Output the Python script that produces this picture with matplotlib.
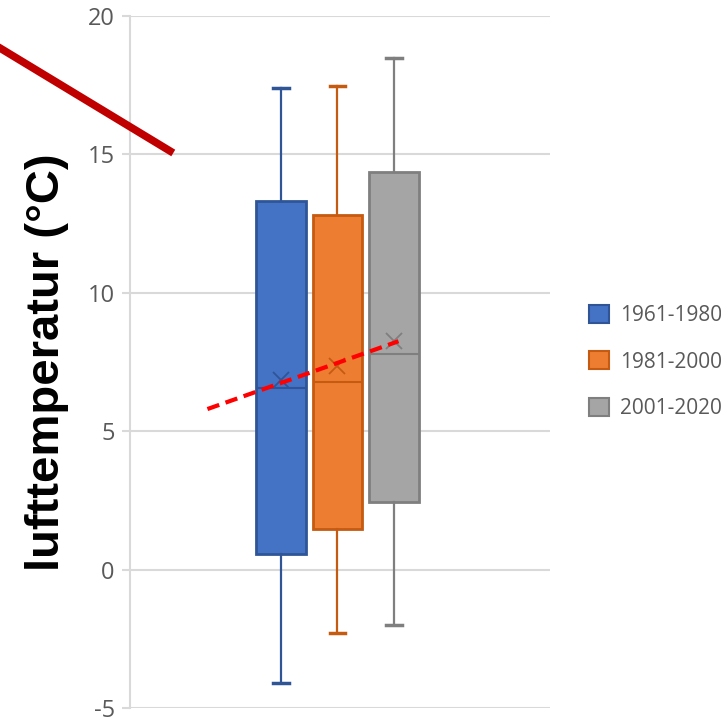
import matplotlib
matplotlib.use("Agg")
import matplotlib.pyplot as plt
from matplotlib.lines import Line2D
from matplotlib.patches import Patch

plt.rcParams["axes.unicode_minus"] = False

# Statistiques des boites
periodes = ["1961-1980", "1981-2000", "2001-2020"]
w_bas = [-4.1, -2.3, -2.0]
q1 = [0.55, 1.48, 2.46]
mediane = [6.55, 6.77, 7.78]
q3 = [13.3, 12.8, 14.36]
w_haut = [17.4, 17.47, 18.5]
moyenne = [6.85, 7.34, 8.25]

# tendance (pointillés rouges)
tend_x = [-0.3, 3.08]
tend_y = [5.8, 8.25]

remplissage = ["#4472C4", "#ED7D31", "#A5A5A5"]
bords = ["#2F5597", "#C55A11", "#7F7F7F"]

fig = plt.figure(figsize=(7.21, 7.19), dpi=100)
ax = fig.add_axes([130/721, 11/719, 420/721, 692/719])

stats = []
for i in range(3):
    stats.append(dict(whislo=w_bas[i], q1=q1[i], med=mediane[i], q3=q3[i],
                      whishi=w_haut[i], mean=moyenne[i], label=periodes[i]))

for i in range(3):
    ax.bxp([stats[i]], positions=[i + 1], widths=0.88, patch_artist=True,
           showmeans=True, showfliers=False,
           boxprops=dict(facecolor=remplissage[i], edgecolor=bords[i], linewidth=2),
           whiskerprops=dict(color=bords[i], linewidth=1.6),
           capprops=dict(color=bords[i], linewidth=2.5),
           medianprops=dict(color=bords[i], linewidth=1.5),
           meanprops=dict(marker="x", markeredgecolor=bords[i], markersize=12,
                          markeredgewidth=1.3),
           capwidths=0.27, zorder=3)

ax.plot(tend_x, tend_y, color="#FF0000", linestyle=(0, (3, 1.6)), linewidth=3, zorder=5)

ax.set_xlim(-1.67, 5.76)
ax.set_ylim(-5, 20)
ax.set_yticks([-5, 0, 5, 10, 15, 20])
ax.set_xticks([])
ax.grid(axis="y", color="#D9D9D9", linewidth=1.5, zorder=0)
ax.set_axisbelow(True)
for s in ["top", "right", "bottom"]:
    ax.spines[s].set_visible(False)
ax.spines["left"].set_color("#D9D9D9")
ax.spines["left"].set_linewidth(1.5)
ax.tick_params(axis="y", colors="#D9D9D9", labelcolor="#595959", length=6, width=1.5,
               labelsize=17, pad=5)
for t in ax.get_yticklabels():
    t.set_fontfamily("Open Sans")

fig.text(47/721, 1 - 362/719, "lufttemperatur (°C)", rotation=90, ha="center", va="center",
         fontsize=34, fontweight="bold", family="Liberation Sans")

# ligne rouge foncé en haut à gauche
fig.add_artist(Line2D([-10/721, 170/721], [1 - 42/719, 1 - 151/719],
                      color="#C00000", linewidth=5.5, transform=fig.transFigure))

poignees = [Patch(facecolor=remplissage[i], edgecolor=bords[i], linewidth=1.5)
            for i in range(3)]
leg = fig.legend(poignees, periodes, loc="center left", bbox_to_anchor=(570/721, 1 - 362/719),
                 frameon=False, handlelength=0.95, handleheight=0.95,
                 labelspacing=1.2, handletextpad=0.55,
                 prop={"family": "Open Sans", "size": 15})
for t in leg.get_texts():
    t.set_color("#595959")

fig.savefig("out.png", dpi=100)
